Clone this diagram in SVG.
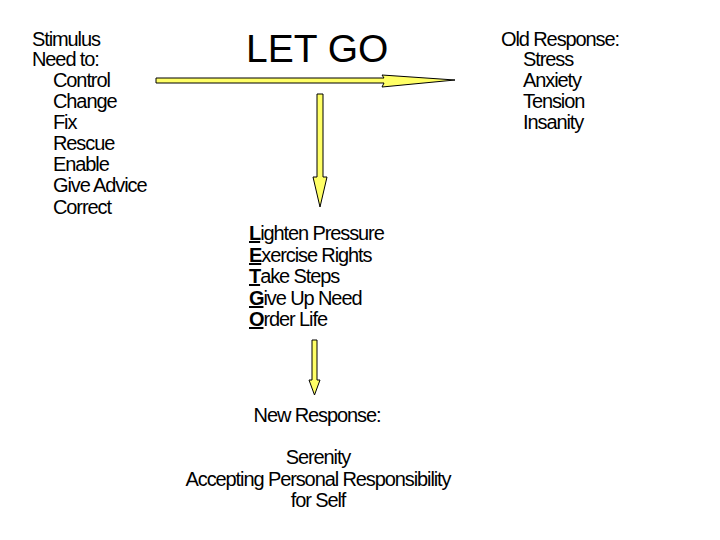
<svg xmlns="http://www.w3.org/2000/svg" width="720" height="540" viewBox="0 0 720 540">
<style>
text{font-family:"Liberation Sans",Arial,sans-serif;fill:#000;}
.t{font-size:20px;letter-spacing:-1.1px;}
.title{font-size:39px;}
.arrow{fill:#ffff66;stroke:#000;stroke-width:1;}
.b{font-weight:bold;text-decoration:underline;}
</style>
<rect width="720" height="540" fill="#fff"/>
<g id="stimulus">
<text class="t" x="32" y="46">Stimulus</text>
<text class="t" x="32" y="66">Need to:</text>
<text class="t" x="53" y="87">Control</text>
<text class="t" x="53" y="108">Change</text>
<text class="t" x="53" y="129">Fix</text>
<text class="t" x="53" y="150">Rescue</text>
<text class="t" x="53" y="171">Enable</text>
<text class="t" x="53" y="192">Give Advice</text>
<text class="t" x="53" y="214">Correct</text>
</g>
<g id="letgo">
<text class="title" x="246" y="62">LET GO</text>
</g>
<g id="old-response">
<text class="t" x="501" y="46">Old Response:</text>
<text class="t" x="523" y="66">Stress</text>
<text class="t" x="523" y="87">Anxiety</text>
<text class="t" x="523" y="108">Tension</text>
<text class="t" x="523" y="129">Insanity</text>
</g>
<g id="letgo-steps">
<text class="t" x="249" y="240"><tspan class="b">L</tspan>ighten Pressure</text>
<text class="t" x="249" y="262"><tspan class="b">E</tspan>xercise Rights</text>
<text class="t" x="249" y="283"><tspan class="b">T</tspan>ake Steps</text>
<text class="t" x="249" y="305"><tspan class="b">G</tspan>ive Up Need</text>
<text class="t" x="249" y="326"><tspan class="b">O</tspan>rder Life</text>
</g>
<g id="new-response">
<text class="t" x="317" y="422" text-anchor="middle">New Response:</text>
<text class="t" x="318" y="464" text-anchor="middle">Serenity</text>
<text class="t" x="318" y="486" text-anchor="middle">Accepting Personal Responsibility</text>
<text class="t" x="318" y="507" text-anchor="middle">for Self</text>
</g>
<g id="connectors">
<path class="arrow" d="M156,78 L384,78 L382,75 L455,80 L382,87 L384,83 L156,83 Z"/>
<path class="arrow" d="M317,94 L323,94 L323,177 L327,177 L320,207 L313,177 L317,177 Z"/>
<path class="arrow" d="M312,340 L317,340 L317,380 L320,380 L314.5,395 L309,380 L312,380 Z"/>
</g>
</svg>
